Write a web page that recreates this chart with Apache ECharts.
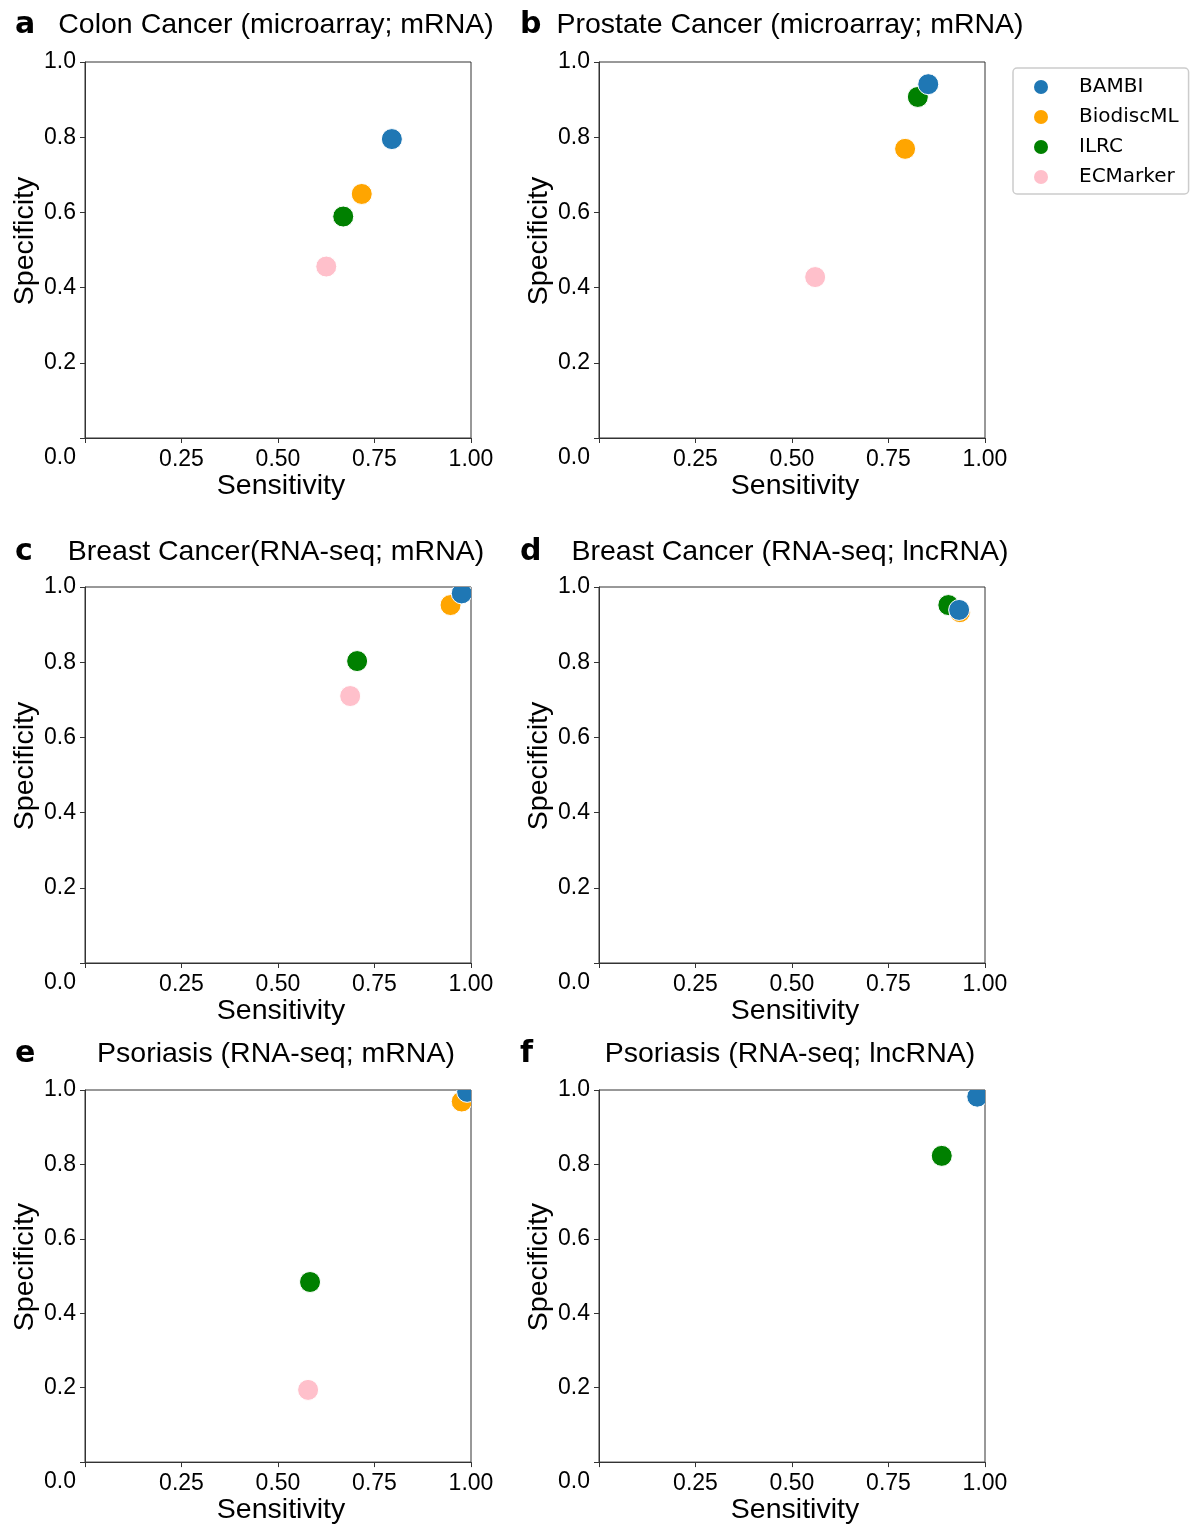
<!DOCTYPE html>
<html>
<head>
<meta charset="utf-8">
<script src="https://cdn.jsdelivr.net/npm/echarts@6/dist/echarts.min.js"></script>
<style>
  html, body { margin: 0; padding: 0; background: #fff; }
  #chart { width: 1194px; height: 1526px; }
</style>
</head>
<body>
<div id="chart"></div>
<script>
// Panel identifiers and headings
const panelLetters = ['a', 'b', 'c', 'd', 'e', 'f'];
const panelTitles = [
  'Colon Cancer (microarray; mRNA)',
  'Prostate Cancer (microarray; mRNA)',
  'Breast Cancer(RNA-seq; mRNA)',
  'Breast Cancer (RNA-seq; lncRNA)',
  'Psoriasis (RNA-seq; mRNA)',
  'Psoriasis (RNA-seq; lncRNA)'
];

// Methods compared in every panel
const methods = ['BAMBI', 'BiodiscML', 'ILRC', 'ECMarker'];

// Sensitivity / specificity per panel (a..f); null = not reported
const bambiSens    = [0.795, 0.853, 0.976, 0.933, 0.990, 0.980];
const bambiSpec    = [0.795, 0.941, 0.983, 0.939, 0.995, 0.982];
const biodiscSens  = [0.717, 0.793, 0.947, 0.935, 0.976, null];
const biodiscSpec  = [0.649, 0.769, 0.952, 0.933, 0.969, null];
const ilrcSens     = [0.669, 0.826, 0.705, 0.905, 0.583, 0.888];
const ilrcSpec     = [0.589, 0.907, 0.803, 0.952, 0.484, 0.823];
const ecmarkerSens = [0.625, 0.560, 0.687, null, 0.578, null];
const ecmarkerSpec = [0.456, 0.428, 0.710, null, 0.194, null];

// ---- presentation ----
const methodColors = ['#1f77b4', '#ffa500', '#008000', '#ffc0cb'];
const methodSens = [bambiSens, biodiscSens, ilrcSens, ecmarkerSens];
const methodSpec = [bambiSpec, biodiscSpec, ilrcSpec, ecmarkerSpec];

const FONT = '"Liberation Sans", Arial, Helvetica, sans-serif';
const colLeft = [85, 599];
const rowTop = [62, 587, 1090];
const plotW = 386, plotH = 376;
const MARKER_R = 10.5;

const grids = [], xAxes = [], yAxes = [], series = [], titles = [];

panelLetters.forEach((letter, p) => {
  const col = p % 2, row = Math.floor(p / 2);
  const left = colLeft[col], top = rowTop[row];

  grids.push({
    left: left, top: top, width: plotW, height: plotH,
    show: true, borderColor: '#333', borderWidth: 1, backgroundColor: 'transparent'
  });

  xAxes.push({
    gridIndex: p, type: 'value', min: 0, max: 1, interval: 0.25,
    splitLine: { show: false },
    axisLine: { show: true, lineStyle: { color: '#333', width: 1 } },
    axisTick: { show: true, length: 5, lineStyle: { color: '#333' } },
    axisLabel: {
      color: '#000', fontSize: 23, fontFamily: FONT, margin: 10,
      formatter: v => (v === 0 ? '' : v.toFixed(2))
    },
    name: 'Sensitivity', nameLocation: 'middle', nameGap: 26,
    nameTextStyle: { color: '#000', fontSize: 28.5, fontFamily: FONT, padding: [0, 0, 0, 6] }
  });

  yAxes.push({
    gridIndex: p, type: 'value', min: 0, max: 1, interval: 0.2,
    splitLine: { show: false },
    axisLine: { show: true, lineStyle: { color: '#333', width: 1 } },
    axisTick: { show: true, length: 5, lineStyle: { color: '#333' } },
    axisLabel: {
      color: '#000', fontSize: 23, fontFamily: FONT, margin: 9,
      formatter: v => (v === 0 ? '{z|0.0}' : v.toFixed(1)),
      rich: { z: { fontSize: 23, fontFamily: FONT, color: '#000', padding: [40, 0, 0, 0] } }
    },
    name: 'Specificity', nameLocation: 'middle', nameGap: 40,
    nameTextStyle: { color: '#000', fontSize: 28.5, fontFamily: FONT, padding: [0, 0, 0, 18] }
  });

  methods.forEach((m, k) => {
    const sx = methodSens[k][p], sy = methodSpec[k][p];
    const color = methodColors[k];
    series.push({
      name: m, type: 'custom', coordinateSystem: 'cartesian2d',
      xAxisIndex: p, yAxisIndex: p,
      clip: true,
      z: 10 - k,
      itemStyle: { color: color },
      encode: { x: 0, y: 1 },
      renderItem: (params, api) => {
        const pt = api.coord([api.value(0), api.value(1)]);
        return {
          type: 'circle',
          shape: { cx: pt[0], cy: pt[1], r: MARKER_R },
          style: { fill: color, stroke: '#fff', lineWidth: 1 }
        };
      },
      data: (sx == null || sy == null) ? [] : [[sx, sy]]
    });
  });

  const titleTop = [11, 538, 1040][row];
  titles.push({
    text: letter, left: col === 0 ? 15 : 520, top: titleTop - 1, padding: 0,
    textStyle: { fontSize: 30, fontWeight: 900, fontFamily: '"DejaVu Sans", sans-serif', color: '#000' }
  });
  titles.push({
    text: panelTitles[p], left: left + plotW / 2 - 2, top: titleTop, padding: 0, textAlign: 'center',
    textStyle: { fontSize: 28.5, fontWeight: 'normal', fontFamily: FONT, color: '#000' }
  });
});

const chart = echarts.init(document.getElementById('chart'), null, { renderer: 'canvas' });
chart.setOption({
  backgroundColor: '#fff',
  animation: false,
  title: titles,
  grid: grids,
  xAxis: xAxes,
  yAxis: yAxes,
  legend: {
    data: methods,
    orient: 'vertical',
    left: 1013, top: 68,
    padding: [9, 10, 7, 21],
    itemGap: 10,
    itemWidth: 14, itemHeight: 14,
    icon: 'circle',
    borderColor: '#ccc', borderWidth: 1.5, borderRadius: 4,
    selectedMode: false,
    formatter: name => '{t|' + name + '}',
    textStyle: {
      color: '#000', fontSize: 20, fontFamily: '"DejaVu Sans", sans-serif', lineHeight: 20,
      rich: { t: { fontSize: 20, fontFamily: '"DejaVu Sans", sans-serif', color: '#000', lineHeight: 20, padding: [0, 0, 0, 26] } }
    }
  },
  series: series
});
</script>
</body>
</html>
